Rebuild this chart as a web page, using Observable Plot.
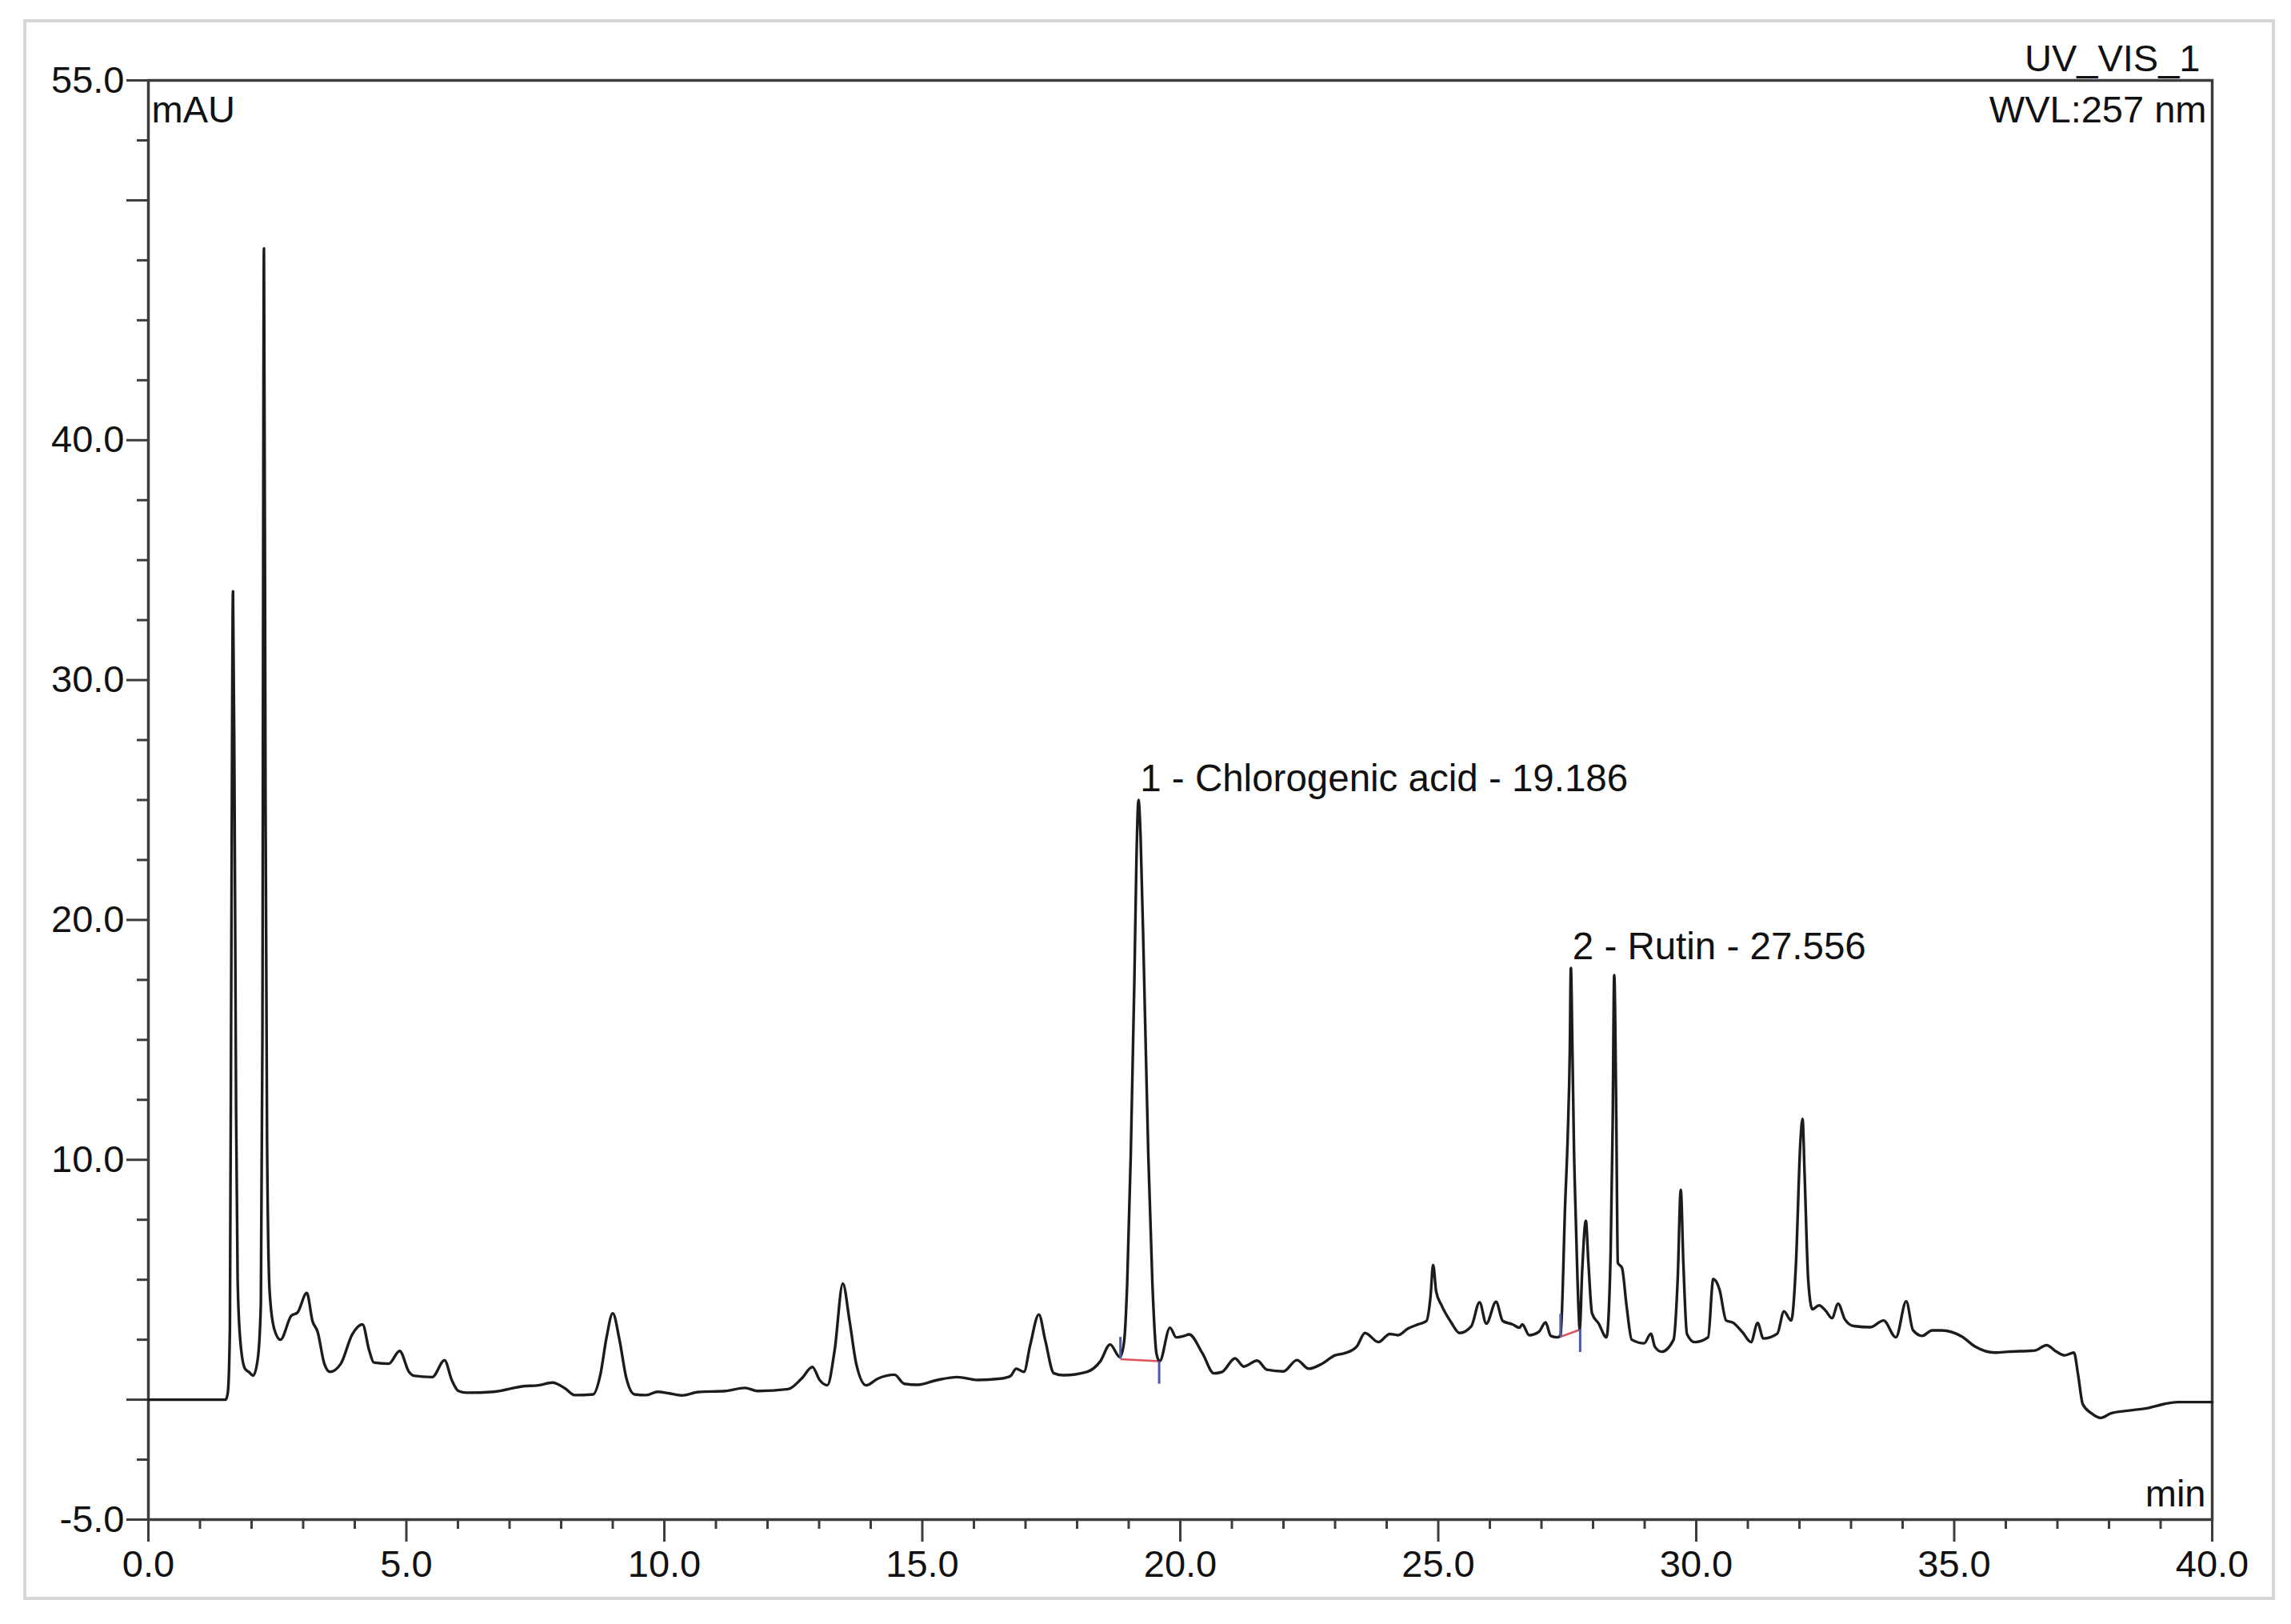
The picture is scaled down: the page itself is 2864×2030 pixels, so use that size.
<!DOCTYPE html>
<html>
<head>
<meta charset="utf-8">
<script src="https://cdn.jsdelivr.net/npm/d3@7"></script>
<script src="https://cdn.jsdelivr.net/npm/@observablehq/plot@0.6"></script>
<style>
html, body { margin: 0; padding: 0; background: #fff; }
#wrap { position: relative; width: 2864px; height: 2030px; overflow: hidden; }
#wrap svg { display: block; position: absolute; left: 0; top: 0; }
#border { position: absolute; left: 29px; top: 24px; width: 2815px; height: 1976px; border: 4px solid #d6d6d6; box-sizing: border-box; pointer-events: none; }
</style>
</head>
<body>
<div id="wrap"><div id="border"></div></div>
<script>
// Retention time (min)
const time = [
  0, 1.50, 1.54, 1.58, 1.61, 1.64, 1.67, 1.70, 1.73, 1.78, 1.87, 1.95, 2.03, 2.12, 2.18, 2.21, 2.24, 2.27, 2.30, 2.35,
  2.44, 2.56, 2.77, 2.89, 3.07, 3.18, 3.28, 3.41, 3.52, 3.73, 3.95, 4.15, 4.28, 4.37, 4.66, 4.87, 5.05, 5.14, 5.50, 5.74,
  5.88, 6.01, 6.17, 6.69, 7.27, 7.56, 7.83, 8.07, 8.26, 8.62, 8.76, 8.88, 9.00, 9.13, 9.26, 9.42, 9.65, 9.87, 10.08, 10.34,
  10.66, 11.18, 11.56, 11.82, 12.40, 12.66, 12.87, 13.01, 13.16, 13.30, 13.46, 13.59, 13.72, 13.91, 14.14, 14.46, 14.65, 14.91, 15.29, 15.68,
  16.07, 16.52, 16.71, 16.82, 16.97, 17.09, 17.26, 17.38, 17.55, 17.74, 18.19, 18.45, 18.64, 18.83, 18.91, 18.97, 19.04, 19.11, 19.15, 19.19,
  19.23, 19.30, 19.38, 19.46, 19.54, 19.60, 19.80, 19.92, 20.08, 20.17, 20.43, 20.65, 20.81, 21.06, 21.23, 21.49, 21.68, 22.00, 22.26, 22.49,
  22.74, 23.00, 23.19, 23.42, 23.58, 23.84, 24.06, 24.22, 24.41, 24.61, 24.77, 24.85, 24.90, 24.96, 25.06, 25.25, 25.41, 25.64, 25.80, 25.93,
  26.12, 26.25, 26.44, 26.57, 26.63, 26.76, 26.95, 27.08, 27.18, 27.31, 27.37, 27.46, 27.51, 27.55, 27.57, 27.60, 27.63, 27.67, 27.72, 27.74,
  27.79, 27.86, 27.91, 27.98, 28.11, 28.26, 28.34, 28.38, 28.41, 28.45, 28.48, 28.56, 28.65, 28.75, 28.99, 29.12, 29.20, 29.33, 29.56, 29.64,
  29.70, 29.75, 29.82, 29.97, 30.23, 30.33, 30.45, 30.58, 30.72, 30.90, 31.06, 31.19, 31.30, 31.57, 31.70, 31.84, 31.93, 32.02, 32.06, 32.10,
  32.17, 32.25, 32.38, 32.51, 32.63, 32.75, 32.88, 33.05, 33.37, 33.63, 33.87, 34.07, 34.20, 34.38, 34.57, 34.76, 35.15, 35.40, 35.79, 36.05,
  36.56, 36.79, 36.98, 37.14, 37.32, 37.40, 37.49, 37.66, 37.84, 38.04, 38.36, 38.75, 39.07, 39.33, 40.00
];
// Absorbance (mAU)
const absorbance = [
  0, 0, 0.3, 3.0, 20.0, 33.7, 25.0, 12.0, 5.0, 2.5, 1.3, 1.15, 1.0, 1.7, 4.0, 15.0, 48.0, 25.0, 10.8, 4.5,
  2.94, 2.5, 3.5, 3.63, 4.45, 3.28, 2.83, 1.5, 1.16, 1.5, 2.72, 3.14, 2.05, 1.55, 1.5, 2.03, 1.16, 1.0, 0.94, 1.64,
  0.82, 0.36, 0.29, 0.33, 0.56, 0.6, 0.71, 0.48, 0.19, 0.22, 1.04, 2.6, 3.6, 2.5, 0.93, 0.22, 0.19, 0.33, 0.27, 0.18,
  0.32, 0.36, 0.49, 0.36, 0.44, 0.88, 1.36, 0.82, 0.6, 2.05, 4.84, 3.28, 1.49, 0.6, 0.88, 1.04, 0.66, 0.62, 0.82, 0.94,
  0.82, 0.88, 0.99, 1.29, 1.16, 2.27, 3.55, 2.5, 1.1, 1.02, 1.16, 1.6, 2.3, 1.77, 2.4, 4.8, 10.2, 17.5, 22.5, 25.0,
  23.5, 17.5, 10.2, 4.8, 1.9, 1.6, 3.0, 2.6, 2.66, 2.72, 1.93, 1.1, 1.16, 1.72, 1.38, 1.63, 1.25, 1.18, 1.65, 1.29,
  1.49, 1.85, 1.94, 2.22, 2.78, 2.4, 2.74, 2.69, 2.96, 3.14, 3.28, 4.3, 5.62, 4.5, 3.95, 3.22, 2.78, 3.06, 4.06, 3.17,
  4.08, 3.28, 3.14, 3.0, 3.14, 2.69, 2.83, 3.22, 2.66, 2.6, 2.7, 8.2, 11.05, 14.6, 18.0, 14.6, 10.5, 7.2, 3.7, 2.92,
  5.4, 7.46, 5.7, 3.6, 3.17, 2.6, 6.05, 11.4, 17.7, 11.8, 5.7, 5.5, 3.9, 2.5, 2.35, 2.75, 2.2, 2.0, 2.5, 5.0,
  8.75, 5.7, 2.74, 2.4, 2.6, 5.03, 4.6, 3.3, 3.2, 2.8, 2.4, 3.2, 2.55, 2.75, 3.68, 3.3, 5.55, 10.8, 11.7, 9.4,
  5.0, 3.77, 3.93, 3.7, 3.4, 4.0, 3.35, 3.07, 3.02, 3.3, 2.6, 4.1, 2.9, 2.66, 2.89, 2.89, 2.63, 2.22, 1.96, 2.0,
  2.05, 2.27, 2.0, 1.85, 1.96, 1.05, -0.18, -0.57, -0.76, -0.57, -0.46, -0.35, -0.18, -0.1, -0.1
];

// Identified peaks
const peakLabels = ["1 - Chlorogenic acid - 19.186", "2 - Rutin - 27.556"];
const peakTimes = [19.19, 27.57];
const peakHeights = [25.0, 18.0];

// Integration baselines (start/end time and level)
const intStartTime = [18.84, 27.34];
const intStartLevel = [1.69, 2.6];
const intEndTime = [19.59, 27.75];
const intEndLevel = [1.6, 2.92];
// Integration delimiter marks (time, from, to)
const delimTime = [18.84, 19.59, 27.37, 27.75];
const delimFrom = [1.69, 1.6, 2.6, 2.92];
const delimTo = [2.6, 0.65, 3.56, 1.97];

// Axis ticks
const xMajor = [0, 5, 10, 15, 20, 25, 30, 35, 40];
const xMinor = d3.range(0, 41, 1).filter(d => d % 5 !== 0);
const yMajor = [-5, 0, 10, 20, 30, 40, 50, 55];
const yLabeled = [-5, 10, 20, 30, 40, 55];
const yMinor = [-2.5, 2.5, 5, 7.5, 12.5, 15, 17.5, 22.5, 25, 27.5, 32.5, 35, 37.5, 42.5, 45, 47.5, 52.5];

const points = time.map((t, i) => ({t, v: absorbance[i]}));
const baselines = intStartTime.map((t, i) => ({x1: t, y1: intStartLevel[i], x2: intEndTime[i], y2: intEndLevel[i]}));
const delims = delimTime.map((t, i) => ({t, a: delimFrom[i], b: delimTo[i]}));
const peaks = peakLabels.map((label, i) => ({label, t: peakTimes[i], v: peakHeights[i]}));

const FONT = '"Liberation Sans", Arial, Helvetica, sans-serif';
const FS = 47;
const AX = "#3c3c3c";

const chart = Plot.plot({
  width: 2864,
  height: 2030,
  marginLeft: 185,
  marginRight: 99,
  marginTop: 100,
  marginBottom: 131,
  x: {domain: [0, 40], label: null},
  y: {domain: [-5, 55], label: null},
  style: {fontFamily: FONT, fontSize: FS + "px", color: "#111", background: "transparent"},
  marks: [
    Plot.axisX(xMinor, {tickSize: 12, tickFormat: () => "", stroke: AX, strokeWidth: 3, label: null}),
    Plot.axisX(xMajor, {tickSize: 28, tickPadding: 10, tickFormat: d => d.toFixed(1), stroke: AX, strokeWidth: 3, fontSize: FS, fill: "#111", label: null}),
    Plot.axisY(yMinor, {tickSize: 14, tickFormat: () => "", stroke: AX, strokeWidth: 3, label: null}),
    Plot.axisY(yMajor, {tickSize: 27, tickPadding: 3, tickFormat: d => yLabeled.includes(d) ? d.toFixed(1) : "", stroke: AX, strokeWidth: 3, fontSize: FS, fill: "#111", label: null}),
    Plot.frame({stroke: AX, strokeWidth: 3.5}),
    Plot.link(baselines, {x1: "x1", y1: "y1", x2: "x2", y2: "y2", stroke: "#e0505a", strokeWidth: 2.5}),
    Plot.line(points, {x: "t", y: "v", stroke: "#1c1c1c", strokeWidth: 3.4, strokeLinejoin: "round", curve: "monotone-x"}),
    Plot.ruleX(delims, {x: "t", y1: "a", y2: "b", stroke: "#4a5aa8", strokeWidth: 3}),
    Plot.text(peaks, {x: "t", y: "v", text: "label", textAnchor: "start", lineAnchor: "bottom", dx: 2, dy: -11, fontSize: 47.5, fill: "#111"}),
    Plot.text(["UV_VIS_1"], {frameAnchor: "top-right", textAnchor: "end", lineAnchor: "bottom", dx: -15, dy: -12, fontSize: FS, fill: "#111"}),
    Plot.text(["WVL:257 nm"], {frameAnchor: "top-right", textAnchor: "end", lineAnchor: "bottom", dx: -7, dy: 52, fontSize: FS, fill: "#111"}),
    Plot.text(["mAU"], {frameAnchor: "top-left", textAnchor: "start", lineAnchor: "bottom", dx: 4, dy: 52, fontSize: FS, fill: "#111"}),
    Plot.text(["min"], {frameAnchor: "bottom-right", textAnchor: "end", lineAnchor: "bottom", dx: -8, dy: -17, fontSize: FS, fill: "#111"})
  ]
});

document.getElementById("wrap").insertBefore(chart, document.getElementById("border"));
</script>
</body>
</html>
